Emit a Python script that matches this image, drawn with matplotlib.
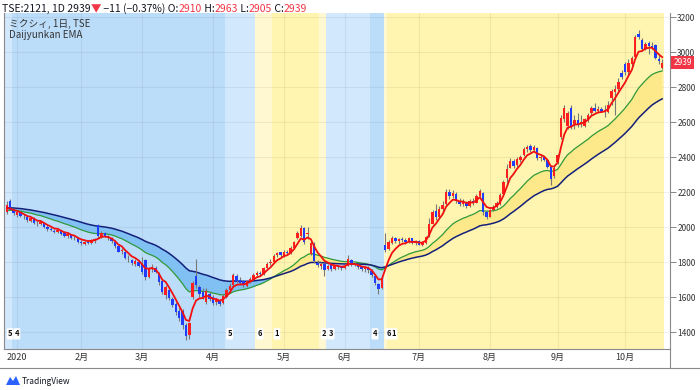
import numpy as np
import matplotlib
matplotlib.use('Agg')
import matplotlib.pyplot as plt
from matplotlib.lines import Line2D
from matplotlib.patches import Polygon
from matplotlib.transforms import blended_transform_factory

plt.rcParams['font.family'] = ['Noto Sans CJK JP', 'DejaVu Sans']

# ---------------- data (bar index -3 .. 191, daily) ----------------
first_index = -3
opens = [2085, 2150, 2105, 2070, 2085, 2060, 2055, 2035, 2050, 2020,
         2015, 2025, 2000, 1990, 1980, 1970, 1980, 1965, 1950, 1955,
         1935, 1935, 1915, 1905, 1915, 1910, 1920, 2010, 1945, 1965,
         1950, 1935, 1915, 1890, 1865, 1860, 1820, 1810, 1790, 1800,
         1790, 1810, 1715, 1760, 1765, 1740, 1690, 1610, 1640, 1590,
         1560, 1520, 1520, 1440, 1385, 1600, 1720, 1660, 1630, 1570,
         1620, 1600, 1570, 1580, 1565, 1600, 1640, 1670, 1720, 1700,
         1690, 1665, 1690, 1700, 1725, 1740, 1730, 1765, 1795, 1800,
         1840, 1855, 1835, 1860, 1850, 1880, 1935, 1950, 1995, 1960,
         1845, 1905, 1795, 1780, 1790, 1760, 1785, 1760, 1775, 1770,
         1765, 1780, 1810, 1790, 1780, 1770, 1760, 1765, 1750, 1720,
         1675, 1650, 1895, 1875, 1910, 1935, 1920, 1930, 1925, 1915,
         1935, 1910, 1920, 1900, 1910, 1950, 2020, 2090, 2060, 2105,
         2130, 2200, 2175, 2190, 2150, 2130, 2145, 2120, 2150, 2140,
         2180, 2195, 2085, 2060, 2095, 2115, 2130, 2190, 2280, 2340,
         2380, 2355, 2385, 2410, 2445, 2465, 2440, 2450, 2395, 2400,
         2385, 2345, 2290, 2370, 2515, 2615, 2580, 2680, 2590, 2610,
         2590, 2580, 2610, 2650, 2680, 2665, 2675, 2660, 2655, 2740,
         2770, 2790, 2880, 2930, 2885, 2930, 2970, 3105, 3070, 3020,
         3050, 3035, 3040, 2960, 2910]
highs = [2150, 2160, 2110, 2095, 2090, 2075, 2060, 2060, 2055, 2035,
         2040, 2030, 2010, 2000, 1990, 1995, 1985, 1975, 1970, 1960,
         1950, 1940, 1925, 1920, 1925, 1930, 1935, 2020, 1975, 1970,
         1955, 1945, 1925, 1895, 1880, 1865, 1840, 1815, 1815, 1810,
         1830, 1820, 1770, 1790, 1775, 1745, 1700, 1670, 1650, 1600,
         1570, 1540, 1530, 1450, 1460, 1690, 1815, 1670, 1650, 1650,
         1630, 1610, 1595, 1590, 1615, 1650, 1680, 1740, 1730, 1715,
         1700, 1700, 1715, 1735, 1750, 1750, 1770, 1800, 1815, 1845,
         1860, 1860, 1870, 1870, 1890, 1920, 1975, 2010, 2000, 2000,
         1920, 1915, 1810, 1800, 1795, 1790, 1790, 1785, 1785, 1780,
         1790, 1840, 1815, 1800, 1790, 1780, 1775, 1775, 1760, 1725,
         1680, 1715, 1966, 1925, 1950, 1945, 1940, 1945, 1935, 1945,
         1940, 1925, 1925, 1920, 1950, 2050, 2100, 2130, 2120, 2150,
         2215, 2215, 2210, 2200, 2165, 2160, 2150, 2160, 2165, 2190,
         2215, 2200, 2095, 2105, 2125, 2150, 2195, 2270, 2360, 2395,
         2390, 2400, 2410, 2455, 2470, 2475, 2470, 2455, 2410, 2405,
         2390, 2350, 2355, 2420, 2640, 2700, 2665, 2700, 2640, 2650,
         2640, 2625, 2650, 2690, 2710, 2690, 2685, 2700, 2720, 2790,
         2810, 2850, 2895, 2945, 2960, 2975, 3095, 3126, 3080, 3060,
         3065, 3060, 3045, 2985, 2963]
lows = [2075, 2095, 2070, 2060, 2055, 2045, 2030, 2030, 2015, 2005,
        2010, 1995, 1980, 1975, 1965, 1965, 1955, 1945, 1940, 1930,
        1925, 1910, 1900, 1895, 1905, 1905, 1910, 1940, 1940, 1945,
        1925, 1910, 1880, 1855, 1845, 1815, 1800, 1785, 1780, 1770,
        1730, 1700, 1710, 1745, 1735, 1670, 1620, 1590, 1585, 1545,
        1500, 1465, 1420, 1354, 1360, 1590, 1650, 1600, 1590, 1560,
        1580, 1555, 1555, 1550, 1560, 1595, 1630, 1660, 1680, 1670,
        1660, 1660, 1680, 1695, 1715, 1720, 1725, 1755, 1785, 1795,
        1830, 1830, 1830, 1840, 1845, 1875, 1930, 1945, 1905, 1930,
        1840, 1795, 1770, 1760, 1720, 1755, 1750, 1755, 1760, 1755,
        1760, 1775, 1780, 1775, 1760, 1750, 1745, 1740, 1715, 1670,
        1620, 1645, 1860, 1870, 1905, 1910, 1905, 1915, 1905, 1910,
        1905, 1895, 1895, 1890, 1905, 1945, 2015, 2040, 2050, 2090,
        2125, 2160, 2165, 2140, 2120, 2120, 2110, 2115, 2125, 2135,
        2170, 2070, 2045, 2055, 2090, 2110, 2125, 2185, 2240, 2335,
        2340, 2345, 2370, 2405, 2430, 2430, 2435, 2385, 2380, 2375,
        2340, 2240, 2280, 2360, 2505, 2600, 2560, 2560, 2560, 2570,
        2570, 2570, 2600, 2640, 2660, 2650, 2655, 2630, 2650, 2700,
        2640, 2780, 2845, 2870, 2870, 2920, 2960, 3075, 3005, 3010,
        2990, 3015, 2960, 2930, 2905]
closes = [2125, 2100, 2080, 2085, 2065, 2055, 2040, 2050, 2025, 2015,
          2030, 2000, 1990, 1985, 1970, 1985, 1960, 1950, 1960, 1935,
          1940, 1915, 1910, 1915, 1910, 1925, 1930, 1950, 1965, 1950,
          1935, 1920, 1890, 1860, 1870, 1825, 1815, 1795, 1805, 1780,
          1745, 1715, 1760, 1770, 1745, 1685, 1630, 1660, 1595, 1555,
          1515, 1480, 1440, 1380, 1450, 1680, 1670, 1615, 1600, 1635,
          1590, 1565, 1585, 1560, 1605, 1640, 1665, 1725, 1690, 1680,
          1670, 1690, 1705, 1725, 1740, 1730, 1765, 1790, 1800, 1835,
          1850, 1840, 1860, 1850, 1880, 1915, 1965, 1995, 1915, 1965,
          1910, 1805, 1785, 1790, 1755, 1780, 1760, 1775, 1770, 1765,
          1780, 1815, 1790, 1785, 1770, 1760, 1765, 1755, 1725, 1680,
          1645, 1705, 1870, 1915, 1935, 1920, 1930, 1925, 1915, 1935,
          1910, 1920, 1900, 1910, 1945, 2020, 2085, 2060, 2105, 2125,
          2200, 2180, 2195, 2150, 2130, 2145, 2120, 2150, 2135, 2180,
          2205, 2085, 2060, 2095, 2115, 2140, 2185, 2255, 2330, 2380,
          2350, 2390, 2400, 2445, 2460, 2440, 2455, 2395, 2400, 2385,
          2345, 2275, 2340, 2410, 2625, 2680, 2650, 2580, 2610, 2590,
          2600, 2615, 2640, 2680, 2665, 2675, 2660, 2670, 2700, 2775,
          2790, 2830, 2855, 2885, 2940, 2965, 3085, 3085, 3015, 3045,
          3035, 3025, 2965, 2950, 2939]

ema_spans = [5, 20, 40]
ema_seeds = [2100, 2092, 2110]       # EMA levels just before the first bar

month_labels = ['2020', '2月', '3月', '4月', '5月', '6月', '7月', '8月', '9月', '10月']
month_starts = [0, 19, 37, 58, 79, 97, 119, 140, 160, 180]

stage_numbers = [5, 4, 5, 6, 1, 2, 3, 4, 6, 1]
stage_starts = [-3, -1, 62, 71, 76, 90, 92, 105, 109, 110]

price_ticks = [1400, 1600, 1800, 2000, 2200, 2400, 2600, 2800, 3000, 3200]
last_price = 2939
header_parts = [('TSE:2121, 1D 2939', 'dark'), ('▼', 'red'), (' −11 (−0.37%) O:', 'dark'),
                ('2910', 'red'), (' H:', 'dark'), ('2963', 'red'), (' L:', 'dark'),
                ('2905', 'red'), (' C:', 'dark'), ('2939', 'red')]
legend_lines = ['ミクシィ, 1日, TSE', 'Daijyunkan EMA']
note_text = '第1ステージを維持'

# ---------------- figure ----------------
W, H = 700, 390
fig = plt.figure(figsize=(W / 100, H / 100), dpi=100)
fig.patch.set_facecolor('white')
ax = fig.add_axes([4 / W, 1 - 349 / H, 666 / W, 336 / H])

o = np.array(opens, float)
h = np.array(highs, float)
l = np.array(lows, float)
c = np.array(closes, float)
x = np.arange(first_index, first_index + len(c))
last_x = x[-1]

def ema(vals, span, seed):
    a = 2.0 / (span + 1)
    out = np.empty_like(vals)
    prev = seed
    for k, v in enumerate(vals):
        prev = a * v + (1 - a) * prev
        out[k] = prev
    return out

e_s, e_m, e_l = [ema(c, s, sd) for s, sd in zip(ema_spans, ema_seeds)]

stage_colors = {1: '#fff5b1', 2: '#fff8d0', 3: '#d2e8fc', 4: '#bcddfa', 5: '#d2e8fc', 6: '#fff8d0'}
ends = stage_starts[1:] + [last_x + 1]
for st, s0, s1 in zip(stage_numbers, stage_starts, ends):
    ax.axvspan(s0 - 0.5, s1 - 0.5, color=stage_colors[st], lw=0, zorder=0)

# grid
for m in month_starts:
    ax.axvline(m, color='#000000', alpha=0.06, lw=0.8, zorder=0.5)
for p in price_ticks:
    ax.axhline(p, color='#000000', alpha=0.06, lw=0.8, zorder=0.5)

# EMA ribbon between mid and long
ax.fill_between(x, e_m, e_l, where=e_l >= e_m, interpolate=True, color='#80c0f2', lw=0, zorder=1)
ax.fill_between(x, e_m, e_l, where=e_m > e_l, interpolate=True, color='#fde88a', lw=0, zorder=1)
ax.plot(x, e_m, color='#2f9a3a', lw=0.9, zorder=2)
ax.plot(x, e_l, color='#14207a', lw=1.1, zorder=2)

# candles
up = c >= o
cols = np.where(up, '#ff1f1f', '#1f3dff')
ax.vlines(x, l, h, color='#777777', lw=0.8, zorder=3)
body_low = np.minimum(o, c)
body_h = np.maximum(np.abs(c - o), 4)
ax.bar(x, body_h, bottom=body_low, width=0.72, color=cols, lw=0, zorder=3.5)

ax.plot(x, e_s, color='#f01010', lw=1.3, zorder=4)

# stage labels (left-aligned at the start of each stage, nudged so boxes do not overlap)
lab_tr = blended_transform_factory(ax.transData, ax.transAxes)
prev_pos = -99
for k, (st, s0) in enumerate(zip(stage_numbers, stage_starts)):
    pos = max(s0 - 0.5 + 0.8, prev_pos + 1.6)
    prev_pos = pos
    ax.text(pos, 0.045, str(st), transform=lab_tr, fontsize=5.5, ha='left', va='center',
            color='#111111', fontweight='bold', zorder=6 + 0.01 * (len(stage_numbers) - k),
            bbox=dict(boxstyle='round,pad=0.15,rounding_size=0.15', fc='white', ec='none'))

# annotation box
ax.text(579, 1880, note_text, fontsize=10.5, ha='center', va='center', color='#111111', zorder=7,
        bbox=dict(boxstyle='square,pad=0.18', fc='white', ec='#f7931e', lw=1.5))

# axes formatting
ax.set_xlim(-3.85, 193.3)
ax.set_ylim(1303, 3223)
ax.yaxis.tick_right()
ax.set_yticks(price_ticks)
ax.set_yticklabels([str(p) for p in price_ticks])
ax.tick_params(axis='y', length=4, width=0.7, color='#888888', labelsize=6.0, labelcolor='#333333', pad=1.2)
ax.set_xticks(month_starts)
ax.set_xticklabels(month_labels)
ax.tick_params(axis='x', length=0, labelsize=6.5, labelcolor='#333333', pad=3)
ax.yaxis.label.set_visible(False)
ax.xaxis.label.set_visible(False)
ax.yaxis.offsetText.set_visible(False)
ax.xaxis.offsetText.set_visible(False)
ax.spines['top'].set_visible(False)
for side in ['left', 'right', 'bottom']:
    ax.spines[side].set_color('#8a8a8a')
    ax.spines[side].set_linewidth(0.8)

# last price tag
ax.text(1.005, last_price, str(last_price), transform=blended_transform_factory(ax.transAxes, ax.transData),
        fontsize=6.0, ha='left', va='center', color='white', zorder=8, clip_on=False,
        bbox=dict(boxstyle='square,pad=0.22', fc='#f23645', ec='none'))

# bottom frame lines
fig.add_artist(Line2D([0, 1], [1 - 368 / H, 1 - 368 / H], color='#8a8a8a', lw=0.8))
fig.add_artist(Line2D([670 / W, 670 / W], [1 - 349 / H, 1 - 368 / H], color='#8a8a8a', lw=0.8))

# header rainbow text: place pieces one after another using measured widths
colmap = {'dark': '#131722', 'red': '#f23645'}
fig.canvas.draw()
renderer = fig.canvas.get_renderer()
xpos = 2 / W
for s, cn in header_parts:
    t = fig.text(xpos, 1 - 14 / H, s, fontsize=7.5, color=colmap[cn], ha='left', va='bottom')
    bb = t.get_window_extent(renderer)
    xpos = bb.x1 / W

# legend text in pane
fig.text(9 / W, 1 - 24 / H, legend_lines[0], fontsize=7, color='#333333', ha='left', va='center')
fig.text(9 / W, 1 - 35 / H, legend_lines[1], fontsize=7, color='#333333', ha='left', va='center')

# TradingView mark
logo = Polygon([[6 / W, 1 - 385 / H], [10 / W, 1 - 377 / H], [13 / W, 1 - 381 / H],
                [16 / W, 1 - 376 / H], [20 / W, 1 - 385 / H]], closed=True,
               transform=fig.transFigure, fc='#2962ff', ec='none')
fig.add_artist(logo)
fig.text(22 / W, 1 - 381 / H, 'TradingView', fontsize=6, color='#131722', ha='left', va='center')

fig.savefig('out.png', dpi=100)
